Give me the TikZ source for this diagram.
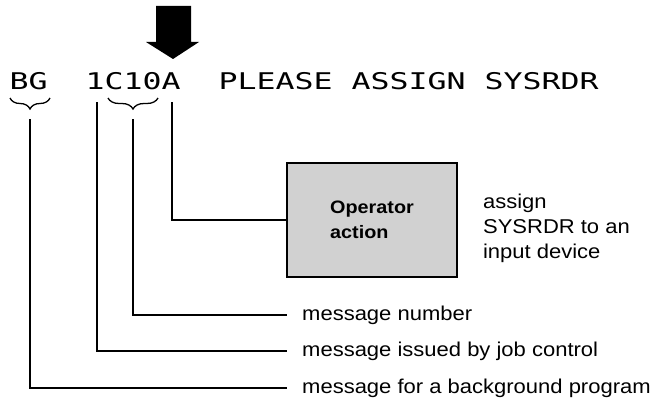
\documentclass[tikz,border=0pt]{standalone}
\usepackage{fontspec}
\usetikzlibrary{decorations.pathreplacing, positioning}
\newfontfamily\msgfont[FakeStretch=1.372]{DejaVu Sans Mono}
\newfontfamily\lblfont[FakeStretch=1.1]{Liberation Sans}

\begin{document}
\begin{tikzpicture}[
    x=1pt, y=-1pt,
    wire/.style={line width=1.6pt},
    curly/.style={decorate, decoration={brace, mirror, amplitude=11pt}, line width=1.3pt},
    lbl/.style={font=\lblfont\fontsize{20}{25}\selectfont, inner sep=0pt},
    actbox/.style={rectangle, draw, line width=1.8pt, fill=black!18, minimum width=170pt, minimum height=114pt, align=left, font=\lblfont\bfseries\fontsize{18}{25}\selectfont}
]
\useasboundingbox (0,0) rectangle (661,404);
% console message
\node[anchor=base west, inner sep=0pt, font=\msgfont\fontsize{23}{28}\selectfont] (msg) at (9.5,89) {BG\ \ 1C10A\ \ PLEASE ASSIGN SYSRDR};
\fill (156,6) -- (191,6) -- (191,42) -- (199,42) -- (173,59) -- (146,42) -- (156,42) -- cycle;
% braces under BG and C10
\draw[curly] (10,98) -- (50,98);
\draw[curly] (108,98) -- (158,98);
\coordinate (bg) at (30,119);
\coordinate (jc) at (97,102);
\coordinate (mn) at (133,119);
\coordinate (ac) at (172,102);
% operator action
\node[actbox] (act) at (372,220) {Operator\\action};
\node[lbl, align=left, right=25pt of act, yshift=-8pt] (what) {assign\\SYSRDR to an\\input device};
\coordinate (e1) at (287,315);
\coordinate (e2) at (287,351);
\coordinate (e3) at (287,388);
\draw[wire] (ac) |- (act.west);
\draw[wire] (mn) |- (e1);
\draw[wire] (jc) |- (e2);
\draw[wire] (bg) |- (e3);
\node[lbl, right=15pt of e1] (l1) {message number};
\node[lbl, right=15pt of e2] (l2) {message issued by job control};
\node[lbl, right=15pt of e3] (l3) {message for a background program};
\end{tikzpicture}
\end{document}
